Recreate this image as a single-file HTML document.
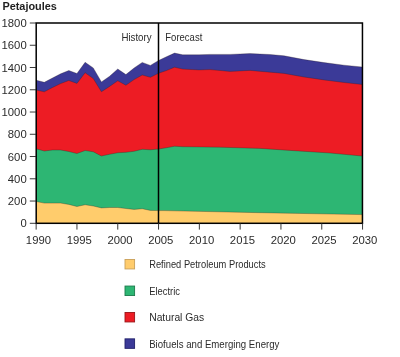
<!DOCTYPE html>
<html><head><meta charset="utf-8"><style>
html,body{margin:0;padding:0;background:#fff;width:400px;height:357px;overflow:hidden}
svg{display:block;will-change:transform}
text{font-family:"Liberation Sans",sans-serif;fill:#2b2b2b}
</style></head><body>
<svg width="400" height="357" viewBox="0 0 400 357">
<text x="2.4" y="9.8" font-size="10.2" font-weight="bold" textLength="54.5" lengthAdjust="spacingAndGlyphs" style="fill:#1f1f1f">Petajoules</text>
<polygon points="36.15,80.20 44.31,82.30 52.47,78.00 60.63,73.80 68.79,70.50 76.95,73.50 85.11,62.30 93.27,67.90 101.43,81.90 109.59,76.30 117.75,69.00 125.91,74.60 134.07,68.00 142.23,62.40 150.39,65.40 158.55,60.50 166.40,56.80 174.55,53.10 182.70,54.80 199.00,54.80 210.00,54.40 230.00,54.40 250.00,53.60 270.00,54.50 284.00,55.80 304.00,59.60 324.00,62.60 344.00,65.20 362.00,67.00 362,223 36,223" fill="#3b3a98"/>
<polyline points="36.15,80.20 44.31,82.30 52.47,78.00 60.63,73.80 68.79,70.50 76.95,73.50 85.11,62.30 93.27,67.90 101.43,81.90 109.59,76.30 117.75,69.00 125.91,74.60 134.07,68.00 142.23,62.40 150.39,65.40 158.55,60.50 166.40,56.80 174.55,53.10 182.70,54.80 199.00,54.80 210.00,54.40 230.00,54.40 250.00,53.60 270.00,54.50 284.00,55.80 304.00,59.60 324.00,62.60 344.00,65.20 362.00,67.00" fill="none" stroke="#2a1a1a" stroke-width="0.5" stroke-opacity="0.6"/>
<polygon points="36.15,90.00 44.31,91.80 52.47,87.50 60.63,83.60 68.79,80.50 76.95,83.40 85.11,72.70 93.27,78.60 101.43,91.75 109.59,86.40 117.75,80.80 125.91,85.25 134.07,79.60 142.23,75.00 150.39,77.30 158.55,73.20 166.40,70.60 174.55,67.20 182.70,69.10 199.00,69.90 210.00,69.60 230.00,71.40 250.00,70.40 270.00,72.20 284.00,73.40 304.00,77.00 324.00,79.90 344.00,82.50 362.00,84.40 362,223 36,223" fill="#ed1c24"/>
<polyline points="36.15,90.00 44.31,91.80 52.47,87.50 60.63,83.60 68.79,80.50 76.95,83.40 85.11,72.70 93.27,78.60 101.43,91.75 109.59,86.40 117.75,80.80 125.91,85.25 134.07,79.60 142.23,75.00 150.39,77.30 158.55,73.20 166.40,70.60 174.55,67.20 182.70,69.10 199.00,69.90 210.00,69.60 230.00,71.40 250.00,70.40 270.00,72.20 284.00,73.40 304.00,77.00 324.00,79.90 344.00,82.50 362.00,84.40" fill="none" stroke="#2a1a1a" stroke-width="0.5" stroke-opacity="0.6"/>
<polygon points="36.15,148.80 44.31,151.00 52.47,150.00 60.63,150.00 68.79,151.50 76.95,153.50 85.11,150.50 93.27,151.80 101.43,156.00 109.59,154.25 117.75,152.75 125.91,152.30 134.07,151.25 142.23,149.30 150.39,149.75 158.55,149.00 166.40,147.75 174.55,146.25 182.70,146.70 220.00,147.20 260.00,148.40 290.00,150.40 330.00,153.00 362.00,156.00 362,223 36,223" fill="#2db673"/>
<polyline points="36.15,148.80 44.31,151.00 52.47,150.00 60.63,150.00 68.79,151.50 76.95,153.50 85.11,150.50 93.27,151.80 101.43,156.00 109.59,154.25 117.75,152.75 125.91,152.30 134.07,151.25 142.23,149.30 150.39,149.75 158.55,149.00 166.40,147.75 174.55,146.25 182.70,146.70 220.00,147.20 260.00,148.40 290.00,150.40 330.00,153.00 362.00,156.00" fill="none" stroke="#2a1a1a" stroke-width="0.5" stroke-opacity="0.6"/>
<polygon points="36.15,201.50 44.31,203.10 52.47,203.10 60.63,203.10 68.79,204.40 76.95,206.50 85.11,204.75 93.27,206.00 101.43,207.90 109.59,207.50 117.75,207.50 125.91,208.50 134.07,209.40 142.23,208.75 150.39,210.40 158.55,210.60 164.00,210.60 260.00,212.70 362.00,214.60 362,223 36,223" fill="#ffcc6c"/>
<polyline points="36.15,201.50 44.31,203.10 52.47,203.10 60.63,203.10 68.79,204.40 76.95,206.50 85.11,204.75 93.27,206.00 101.43,207.90 109.59,207.50 117.75,207.50 125.91,208.50 134.07,209.40 142.23,208.75 150.39,210.40 158.55,210.60 164.00,210.60 260.00,212.70 362.00,214.60" fill="none" stroke="#2a1a1a" stroke-width="0.5" stroke-opacity="0.6"/>

<rect x="36.2" y="23.0" width="326.25" height="200.3" fill="none" stroke="#000" stroke-width="1.5"/>
<line x1="158.5" y1="23" x2="158.5" y2="223.3" stroke="#000" stroke-width="1.5"/>
<line x1="29.8" y1="223.30" x2="36" y2="223.30" stroke="#222" stroke-width="0.9"/>
<line x1="29.8" y1="201.04" x2="36" y2="201.04" stroke="#222" stroke-width="0.9"/>
<line x1="29.8" y1="178.79" x2="36" y2="178.79" stroke="#222" stroke-width="0.9"/>
<line x1="29.8" y1="156.53" x2="36" y2="156.53" stroke="#222" stroke-width="0.9"/>
<line x1="29.8" y1="134.28" x2="36" y2="134.28" stroke="#222" stroke-width="0.9"/>
<line x1="29.8" y1="112.02" x2="36" y2="112.02" stroke="#222" stroke-width="0.9"/>
<line x1="29.8" y1="89.77" x2="36" y2="89.77" stroke="#222" stroke-width="0.9"/>
<line x1="29.8" y1="67.51" x2="36" y2="67.51" stroke="#222" stroke-width="0.9"/>
<line x1="29.8" y1="45.26" x2="36" y2="45.26" stroke="#222" stroke-width="0.9"/>
<line x1="29.8" y1="23.00" x2="36" y2="23.00" stroke="#222" stroke-width="0.9"/>
<line x1="36.15" y1="223" x2="36.15" y2="229.6" stroke="#222" stroke-width="0.9"/>
<line x1="76.95" y1="223" x2="76.95" y2="229.6" stroke="#222" stroke-width="0.9"/>
<line x1="117.75" y1="223" x2="117.75" y2="229.6" stroke="#222" stroke-width="0.9"/>
<line x1="158.55" y1="223" x2="158.55" y2="229.6" stroke="#222" stroke-width="0.9"/>
<line x1="199.35" y1="223" x2="199.35" y2="229.6" stroke="#222" stroke-width="0.9"/>
<line x1="240.15" y1="223" x2="240.15" y2="229.6" stroke="#222" stroke-width="0.9"/>
<line x1="280.95" y1="223" x2="280.95" y2="229.6" stroke="#222" stroke-width="0.9"/>
<line x1="321.75" y1="223" x2="321.75" y2="229.6" stroke="#222" stroke-width="0.9"/>
<line x1="362.55" y1="223" x2="362.55" y2="229.6" stroke="#222" stroke-width="0.9"/>

<text x="26.7" y="227.30" text-anchor="end" font-size="11" textLength="6.26" lengthAdjust="spacingAndGlyphs">0</text>
<text x="26.7" y="205.04" text-anchor="end" font-size="11" textLength="18.90" lengthAdjust="spacingAndGlyphs">200</text>
<text x="26.7" y="182.79" text-anchor="end" font-size="11" textLength="18.90" lengthAdjust="spacingAndGlyphs">400</text>
<text x="26.7" y="160.53" text-anchor="end" font-size="11" textLength="18.90" lengthAdjust="spacingAndGlyphs">600</text>
<text x="26.7" y="138.28" text-anchor="end" font-size="11" textLength="18.90" lengthAdjust="spacingAndGlyphs">800</text>
<text x="26.7" y="116.02" text-anchor="end" font-size="11" textLength="25.16" lengthAdjust="spacingAndGlyphs">1000</text>
<text x="26.7" y="93.77" text-anchor="end" font-size="11" textLength="25.16" lengthAdjust="spacingAndGlyphs">1200</text>
<text x="26.7" y="71.51" text-anchor="end" font-size="11" textLength="25.16" lengthAdjust="spacingAndGlyphs">1400</text>
<text x="26.7" y="49.26" text-anchor="end" font-size="11" textLength="25.16" lengthAdjust="spacingAndGlyphs">1600</text>
<text x="26.7" y="27.00" text-anchor="end" font-size="11" textLength="25.16" lengthAdjust="spacingAndGlyphs">1800</text>
<text x="38.45" y="243.8" text-anchor="middle" font-size="11" textLength="25.16" lengthAdjust="spacingAndGlyphs">1990</text>
<text x="79.25" y="243.8" text-anchor="middle" font-size="11" textLength="25.16" lengthAdjust="spacingAndGlyphs">1995</text>
<text x="120.05" y="243.8" text-anchor="middle" font-size="11" textLength="25.16" lengthAdjust="spacingAndGlyphs">2000</text>
<text x="160.85" y="243.8" text-anchor="middle" font-size="11" textLength="25.16" lengthAdjust="spacingAndGlyphs">2005</text>
<text x="201.65" y="243.8" text-anchor="middle" font-size="11" textLength="25.16" lengthAdjust="spacingAndGlyphs">2010</text>
<text x="242.45" y="243.8" text-anchor="middle" font-size="11" textLength="25.16" lengthAdjust="spacingAndGlyphs">2015</text>
<text x="283.25" y="243.8" text-anchor="middle" font-size="11" textLength="25.16" lengthAdjust="spacingAndGlyphs">2020</text>
<text x="324.05" y="243.8" text-anchor="middle" font-size="11" textLength="25.16" lengthAdjust="spacingAndGlyphs">2025</text>
<text x="364.85" y="243.8" text-anchor="middle" font-size="11" textLength="25.16" lengthAdjust="spacingAndGlyphs">2030</text>

<text x="121.4" y="41.0" font-size="10.6" textLength="30.2" lengthAdjust="spacingAndGlyphs">History</text>
<text x="165.3" y="41.0" font-size="10.6" textLength="37" lengthAdjust="spacingAndGlyphs">Forecast</text>
<rect x="125" y="259.45" width="9.6" height="9.5" fill="#ffcc6c" stroke="#c9a05a" stroke-width="0.9"/>
<text x="149.2" y="268.00" font-size="10.5" textLength="116.5" lengthAdjust="spacingAndGlyphs">Refined Petroleum Products</text>
<rect x="125" y="286.05" width="9.6" height="9.5" fill="#2db673" stroke="#1d7a4c" stroke-width="0.9"/>
<text x="149.2" y="295.00" font-size="10.5" textLength="30.8" lengthAdjust="spacingAndGlyphs">Electric</text>
<rect x="125" y="312.45" width="9.6" height="9.5" fill="#ed1c24" stroke="#9a1418" stroke-width="0.9"/>
<text x="149.2" y="321.20" font-size="10.5" textLength="55" lengthAdjust="spacingAndGlyphs">Natural Gas</text>
<rect x="125" y="338.85" width="9.6" height="9.5" fill="#3b3a98" stroke="#20206a" stroke-width="0.9"/>
<text x="149.2" y="347.60" font-size="10.5" textLength="130.2" lengthAdjust="spacingAndGlyphs">Biofuels and Emerging Energy</text>

</svg>
</body></html>
